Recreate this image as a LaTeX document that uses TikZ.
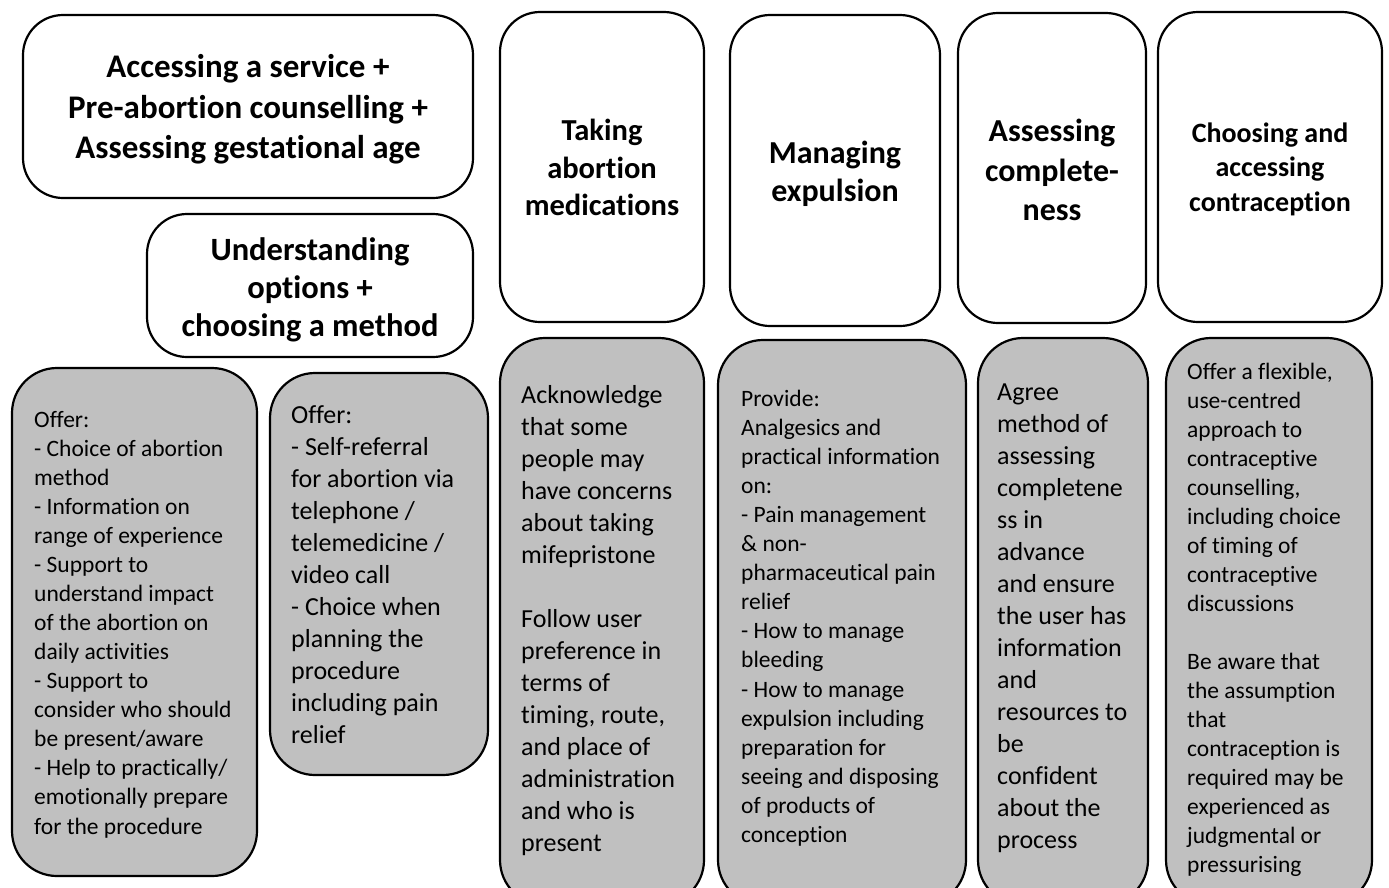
\documentclass[tikz,border=0pt]{standalone}
\usepackage{fontspec}
\setmainfont{Carlito}[Ligatures=CommonOff]
\definecolor{cardgray}{RGB}{192,192,192}
\begin{document}
\begin{tikzpicture}[x=1pt,y=-1pt,
  head/.style={draw=black, line width=2.2pt, rounded corners=40pt, fill=white, inner sep=0pt},
  headtext/.style={align=center, inner sep=0pt},
  card/.style={draw=black, line width=2.2pt, rounded corners=45pt, fill=cardgray, inner sep=0pt},
  body/.style={anchor=north west, align=left, inner sep=0pt},
  smallbody/.style={body, font=\fontsize{23.5}{29.05}\selectfont},
  bigbody/.style={body, font=\fontsize{26}{32}\selectfont}]
\useasboundingbox (0,0) rectangle (1389,887);
% top headings
\node[head, minimum width=450pt, minimum height=183pt] (h1) at (248,106.5) {};
\path (h1.center) ++(0,3) node[headtext, font=\bfseries\fontsize{33}{40.3}\selectfont] (h1t)
  {Accessing a service +\\Pre-abortion counselling +\\Assessing gestational age};
\node[head, minimum width=326pt, minimum height=143pt] (h2) at (310,285.5) {};
\path (h2.center) ++(0,4) node[headtext, font=\bfseries\fontsize{32.5}{38}\selectfont] (h2t)
  {Understanding\\options +\\choosing a method};
\node[head, minimum width=204pt, minimum height=310pt] (h3) at (602,167) {};
\path (h3.center) ++(0,0.5) node[headtext, font=\bfseries\fontsize{30.5}{37.5}\selectfont] (h3t)
  {Taking\\abortion\\medications};
\node[head, minimum width=210pt, minimum height=311pt] (h4) at (835,170.5) {};
\path (h4.center) ++(0,3) node[headtext, font=\bfseries\fontsize{32}{38}\selectfont] (h4t)
  {Managing\\expulsion};
\node[head, minimum width=188pt, minimum height=310pt] (h5) at (1052,168) {};
\path (h5.center) ++(0,2) node[headtext, font=\bfseries\fontsize{32}{39.5}\selectfont] (h5t)
  {Assessing\\complete-\\ness};
\node[head, minimum width=224pt, minimum height=310pt] (h6) at (1270,167) {};
\path (h6.center) ++(0,2) node[headtext, font=\bfseries\fontsize{28}{34.5}\selectfont] (h6t)
  {Choosing and\\accessing\\contraception};
% bottom cards
\node[card, minimum width=245pt, minimum height=508pt] (c1) at (134.5,622) {};
\node[card, minimum width=218pt, minimum height=402pt] (c2) at (379,574) {};
\node[card, minimum width=204pt, minimum height=567pt] (c3) at (602,621.5) {};
\node[card, minimum width=248pt, minimum height=565pt] (c4) at (842,622.5) {};
\node[card, minimum width=170pt, minimum height=567pt] (c5) at (1063,621.5) {};
\node[card, minimum width=206pt, minimum height=567pt] (c6) at (1269,621.5) {};
% card texts
\node[smallbody] (t1) at (34,411) {Offer:\\- Choice of abortion\\method\\- Information on\\range of experience\\- Support to\\understand impact\\of the abortion on\\daily activities\\- Support to\\consider who should\\be present/aware\\- Help to practically/\\emotionally prepare\\for the procedure};
\node[bigbody] (t2) at (291,405.5) {Offer:\\- Self-referral\\for abortion via\\telephone /\\telemedicine /\\video call\\- Choice when\\planning the\\procedure\\including pain\\relief};
\node[bigbody] (t3) at (521,385.5) {Acknowledge\\that some\\people may\\have concerns\\about taking\\mifepristone\\[32pt]Follow user\\preference in\\terms of\\timing, route,\\and place of\\administration\\and who is\\present};
\node[smallbody] (t4) at (741,390) {Provide:\\Analgesics and\\practical information\\on:\\- Pain management\\\& non-\\pharmaceutical pain\\relief\\- How to manage\\bleeding\\- How to manage\\expulsion including\\preparation for\\seeing and disposing\\of products of\\conception};
\node[bigbody] (t5) at (997,384) {Agree\\method of\\assessing\\completene\\ss in\\advance\\and ensure\\the user has\\information\\and\\resources to\\be\\confident\\about the\\process};
\node[smallbody] (t6) at (1187,362.5) {Offer a flexible,\\use-centred\\approach to\\contraceptive\\counselling,\\including choice\\of timing of\\contraceptive\\discussions\\[29.05pt]Be aware that\\the assumption\\that\\contraception is\\required may be\\experienced as\\judgmental or\\pressurising};
\end{tikzpicture}
\end{document}
